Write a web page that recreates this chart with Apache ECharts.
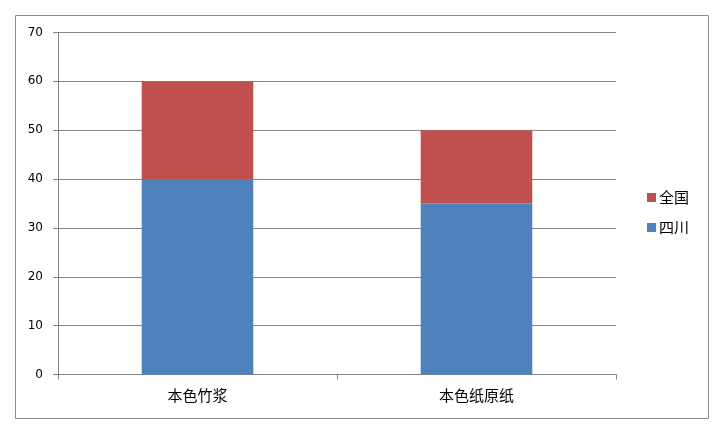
<!DOCTYPE html>
<html><head><meta charset="utf-8">
<script src="https://cdn.jsdelivr.net/npm/echarts@6/dist/echarts.min.js"></script>
<style>html,body{margin:0;padding:0;background:#fff}#c{width:726px;height:435px}</style>
</head><body><div id="c"></div>
<script>
const categories = ['本色竹浆', '本色纸原纸'];
const sichuan = [40, 35];
const quanguo = [20, 15];
const yTicks = [0, 10, 20, 30, 40, 50, 60, 70];

const chart = echarts.init(document.getElementById('c'));
const font = '"Noto Sans CJK SC", "DejaVu Sans", sans-serif';
chart.setOption({
  animation: false,
  backgroundColor: '#fff',
  textStyle: { fontFamily: font },
  graphic: [{
    type: 'rect', silent: true,
    shape: { x: 15.5, y: 15.5, width: 693, height: 403 },
    style: { fill: 'none', stroke: '#8c8c8c', lineWidth: 1 }
  }],
  grid: { left: 58, right: 110, top: 32.5, bottom: 60.5 },
  legend: {
    orient: 'vertical', left: 642, top: 185,
    itemWidth: 9, itemHeight: 9, itemGap: 15,
    itemStyle: { borderWidth: 0 },
    icon: 'rect',
    data: ['全国', '四川'],
    textStyle: { fontSize: 15, color: '#000', fontFamily: font, padding: [0, 0, 0, -2] }
  },
  xAxis: {
    type: 'category', data: categories,
    axisLine: { lineStyle: { color: '#868686' } },
    axisTick: { show: true, length: 5, lineStyle: { color: '#868686' } },
    axisLabel: { color: '#000', fontSize: 15, margin: 13 }
  },
  yAxis: {
    type: 'value', min: yTicks[0], max: yTicks[yTicks.length - 1], interval: 10,
    axisLine: { show: true, lineStyle: { color: '#868686' } },
    axisTick: { show: true, length: 5, lineStyle: { color: '#868686' } },
    splitLine: { lineStyle: { color: '#868686' } },
    axisLabel: { color: '#000', fontSize: 12, margin: 15, fontFamily: '"DejaVu Sans", sans-serif' }
  },
  series: [
    { name: '四川', type: 'bar', stack: 't', data: sichuan, barWidth: '40%', itemStyle: { color: '#4F81BD' } },
    { name: '全国', type: 'bar', stack: 't', data: quanguo, barWidth: '40%', itemStyle: { color: '#C0504D' } }
  ]
});
</script></body></html>
